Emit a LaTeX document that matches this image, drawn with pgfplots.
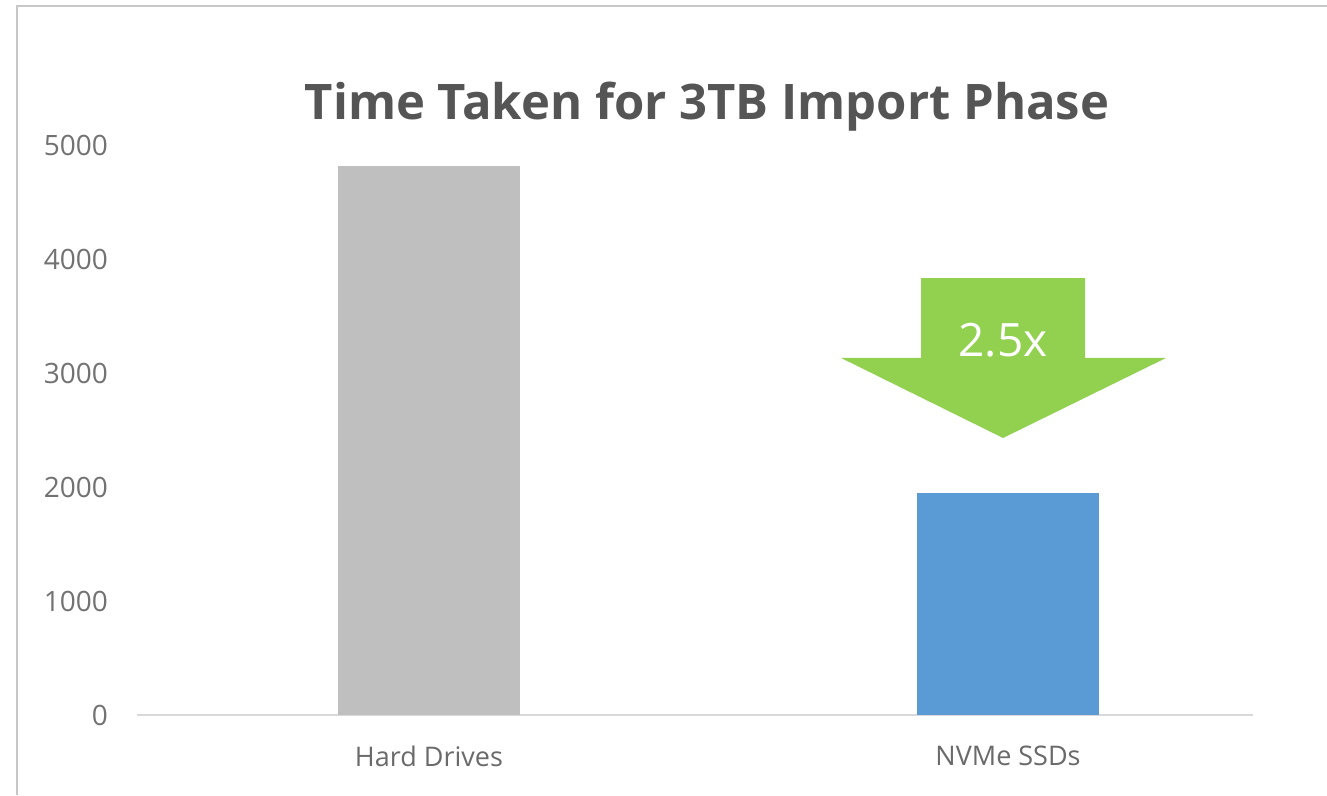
\documentclass[border=0pt]{standalone}
\usepackage{fontspec}
\setmainfont{Open Sans}
\usepackage{pgfplots}
\pgfplotsset{compat=1.18}

\definecolor{hddgray}{HTML}{BFBFBF}
\definecolor{ssdblue}{HTML}{5B9BD5}
\definecolor{arrowgreen}{HTML}{92D050}
\definecolor{txtgray}{HTML}{595959}

\begin{document}
\begin{tikzpicture}[x=1pt,y=1pt]
% page = 1327 x 795 (1px = 1pt), origin bottom left
\useasboundingbox (0,0) rectangle (1327,795);
\fill[white] (0,0) rectangle (1327,795);
% light frame of the original screenshot
\draw[black!22, line width=2pt] (17,0) -- (17,789) -- (1327,789);

\node[font=\fontsize{49}{59}\selectfont\bfseries, text=txtgray!95!black] at (707,688) {Time Taken for 3TB Import Phase};

\begin{axis}[
  at={(137pt,80pt)}, anchor=south west,
  scale only axis,
  width=1116pt, height=570pt,
  xmin=-0.5043, xmax=1.4231,
  ymin=0, ymax=5000,
  xtick={0,1},
  xticklabels={Hard Drives, NVMe SSDs},
  ytick={0,1000,2000,3000,4000,5000},
  axis x line=bottom, axis y line=left,
  axis line style={-},
  x axis line style={draw=black!15, line width=1.2pt},
  y axis line style={draw=none},
  major tick length=0pt,
  tick style={draw=none},
  /pgf/number format/assume math mode=true,
  /pgf/number format/set thousands separator={},
  yticklabel style={font=\fontsize{28}{34}\selectfont, text=txtgray!85, inner sep=0pt, xshift=-29pt},
  xticklabel style={font=\fontsize{27}{32}\selectfont, text=txtgray!90, inner sep=0pt, yshift=-31pt},
  ybar, bar width=182pt, bar shift=0pt,
  clip=false,
]
\addplot[fill=hddgray, draw=none] coordinates {(0,4820)};
\addplot[fill=ssdblue, draw=none] coordinates {(1,1950)};

% 2.5x reduction arrow
\fill[arrowgreen] (axis cs:0.8497,3833) -- (axis cs:1.1330,3833) -- (axis cs:1.1330,3132)
  -- (axis cs:1.2729,3132) -- (axis cs:0.9914,2430) -- (axis cs:0.7116,3132)
  -- (axis cs:0.8497,3132) -- cycle;
\node[text=white, font=\fontsize{46}{54}\selectfont] at (axis cs:0.9914,3290) {2.5x};
\end{axis}
\end{tikzpicture}
\end{document}
